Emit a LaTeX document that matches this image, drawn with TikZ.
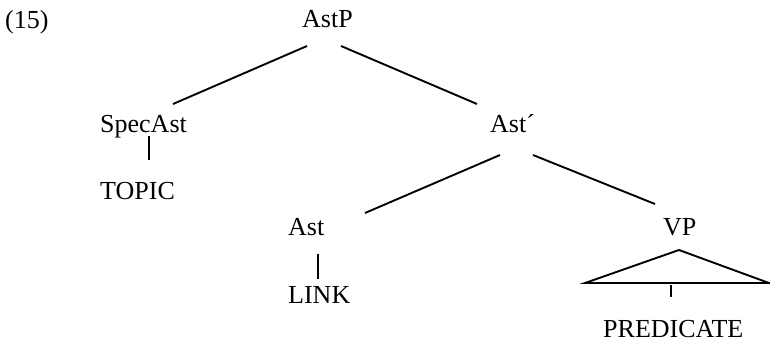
\documentclass[tikz,border=0pt]{standalone}
\usepackage{fontspec}
\setmainfont{Liberation Serif}
\usetikzlibrary{calc}
\begin{document}
\begin{tikzpicture}[x=1pt,y=-1pt,
  lbl/.style={anchor=base west,inner sep=0pt,font=\fontsize{26}{30}\selectfont},
  branch/.style={line width=1.9pt,line cap=butt}]
\useasboundingbox (0,0) rectangle (770,341);

% labels of the tree
\node[lbl] (num)  at (5,28)    {(15)};
\node[lbl] (AstP) at (302,27)  {AstP};
\node[lbl] (Spec) at (100,132) {SpecAst};
\node[lbl] (Topic) at (100,199) {TOPIC};
\node[lbl] (Abar) at (490,132) {Ast´};
\node[lbl] (Ast)  at (288,235) {Ast};
\node[lbl] (Link) at (288,303) {LINK};
\node[lbl] (VP)   at (663,235) {VP};
\node[lbl] (Pred) at (603,337) {PREDICATE};

% branches
\draw[branch] ($(AstP.base west)+(5,19)$) -- ($(Spec.base west)+(73,-28)$);
\draw[branch] ($(AstP.base west)+(39,19)$) -- ($(Abar.base west)+(-13,-28)$);
\draw[branch] ($(Spec.base west)+(49,4)$) -- ($(Topic.base west)+(49,-39)$);
\draw[branch] ($(Abar.base west)+(10,23)$) -- ($(Ast.base west)+(77,-22)$);
\draw[branch] ($(Abar.base west)+(43,23)$) -- ($(VP.base west)+(-8,-31)$);
\draw[branch] ($(Ast.base west)+(30,19)$) -- ($(Link.base west)+(30,-24)$);

% triangle under VP
\coordinate (apex) at ($(VP.base west)+(16,15)$);
\coordinate (triL) at ($(apex)+(-94,33)$);
\coordinate (triR) at ($(apex)+(90,33)$);
\draw[branch,line join=miter] (triL) -- (apex) -- (triR) -- cycle;
\draw[branch] ($(Pred.base west)+(68,-52)$) -- ($(Pred.base west)+(68,-40)$);
\end{tikzpicture}
\end{document}
